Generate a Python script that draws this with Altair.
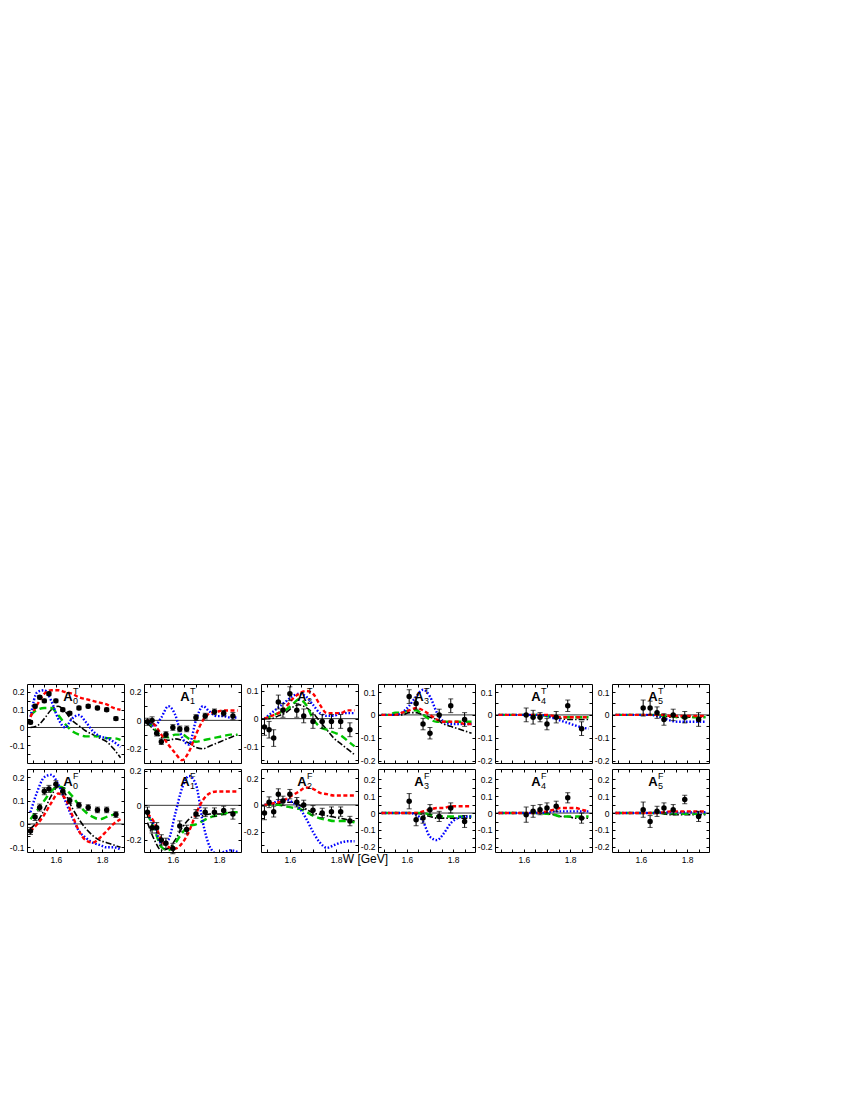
import altair as alt
import pandas as pd

# ---------------- axes / grids ----------------
X_DOM = [1.475, 1.895]
X_TICKS = [1.5, 1.55, 1.6, 1.65, 1.7, 1.75, 1.8, 1.85]
X_LABELS = [1.6, 1.8]

W_CURVE = [1.49, 1.52, 1.55, 1.58, 1.61, 1.64, 1.67, 1.70, 1.73, 1.76, 1.79, 1.82, 1.85, 1.88]
W_DATA = [1.49, 1.51, 1.53, 1.55, 1.57, 1.60, 1.63, 1.66, 1.70, 1.74, 1.78, 1.82, 1.86]
W_DATA_HI = [1.61, 1.64, 1.67, 1.70, 1.74, 1.79, 1.85]

# ---------------- A0^T ----------------
A0T_dom = [-0.2, 0.245]
A0T_ticks = [-0.15, -0.1, -0.05, 0, 0.05, 0.1, 0.15, 0.2]
A0T_pts = [0.03, 0.12, 0.17, 0.15, 0.19, 0.15, 0.10, 0.08, 0.11, 0.12, 0.11, 0.10, 0.05]
A0T_err = [0.01, 0.01, 0.01, 0.01, 0.01, 0.01, 0.01, 0.01, 0.01, 0.01, 0.01, 0.01, 0.01]
A0T_red = [0.06, 0.13, 0.19, 0.21, 0.21, 0.20, 0.19, 0.17, 0.16, 0.15, 0.14, 0.13, 0.11, 0.10]
A0T_blue = [0.06, 0.20, 0.21, 0.15, 0.05, 0.00, 0.05, 0.07, 0.03, -0.02, -0.05, -0.06, -0.08, -0.11]
A0T_green = [0.07, 0.10, 0.11, 0.11, 0.07, 0.02, -0.02, -0.04, -0.05, -0.05, -0.05, -0.06, -0.06, -0.07]
A0T_black = [0.00, 0.01, 0.05, 0.10, 0.12, 0.09, 0.04, 0.01, -0.02, -0.04, -0.06, -0.08, -0.12, -0.17]

# ---------------- A1^T ----------------
A1T_dom = [-0.3, 0.256]
A1T_ticks = [-0.3, -0.2, -0.1, 0, 0.1, 0.2]
A1T_pts = [-0.01, 0.00, -0.09, -0.15, -0.10, -0.05, -0.06, -0.06, 0.02, 0.03, 0.06, 0.05, 0.03]
A1T_err = [0.025, 0.025, 0.02, 0.02, 0.02, 0.02, 0.02, 0.02, 0.02, 0.02, 0.02, 0.02, 0.025]
A1T_red = [0.00, -0.03, -0.10, -0.17, -0.23, -0.28, -0.22, -0.10, 0.00, 0.05, 0.06, 0.07, 0.07, 0.07]
A1T_blue = [0.00, -0.04, 0.02, 0.10, 0.04, -0.12, -0.17, 0.00, 0.10, 0.06, 0.03, 0.03, 0.02, 0.02]
A1T_green = [0.00, -0.06, -0.11, -0.12, -0.10, -0.10, -0.13, -0.15, -0.14, -0.13, -0.12, -0.11, -0.10, -0.10]
A1T_black = [-0.02, -0.07, -0.12, -0.14, -0.13, -0.14, -0.16, -0.19, -0.20, -0.18, -0.16, -0.14, -0.12, -0.10]

# ---------------- A2^T ----------------
A2T_dom = [-0.16, 0.125]
A2T_ticks = [-0.15, -0.1, -0.05, 0, 0.05, 0.1]
A2T_pts = [-0.03, -0.04, -0.07, 0.06, 0.03, 0.09, 0.03, 0.01, -0.01, -0.01, -0.01, -0.01, -0.04]
A2T_err = [0.03, 0.03, 0.03, 0.025, 0.025, 0.025, 0.025, 0.025, 0.025, 0.025, 0.025, 0.025, 0.025]
A2T_red = [0.00, 0.01, 0.02, 0.04, 0.07, 0.09, 0.10, 0.09, 0.05, 0.02, 0.02, 0.02, 0.03, 0.03]
A2T_blue = [0.00, 0.02, 0.04, 0.06, 0.08, 0.09, 0.08, 0.05, 0.02, 0.01, 0.01, 0.02, 0.02, 0.02]
A2T_green = [0.00, 0.01, 0.02, 0.03, 0.05, 0.07, 0.05, 0.00, -0.03, -0.04, -0.05, -0.06, -0.08, -0.10]
A2T_black = [0.00, 0.00, 0.01, 0.02, 0.04, 0.05, 0.04, 0.02, -0.01, -0.04, -0.07, -0.09, -0.11, -0.13]

# ---------------- A3^T ----------------
A3T_dom = [-0.21, 0.135]
A3T_ticks = [-0.2, -0.15, -0.1, -0.05, 0, 0.05, 0.1]
A3T_pts = [0.08, 0.05, -0.04, -0.08, 0.00, 0.04, -0.02]
A3T_err = [0.03, 0.025, 0.025, 0.025, 0.025, 0.03, 0.03]
A3T_red = [0.00, 0.00, 0.00, 0.01, 0.02, 0.03, 0.02, 0.00, -0.02, -0.03, -0.03, -0.03, -0.04, -0.04]
A3T_blue = [0.00, 0.00, 0.00, 0.01, 0.04, 0.08, 0.11, 0.08, 0.01, -0.03, -0.04, -0.04, -0.04, -0.04]
A3T_green = [0.00, 0.00, 0.01, 0.01, 0.02, 0.02, 0.00, -0.02, -0.03, -0.03, -0.03, -0.03, -0.03, -0.03]
A3T_black = [0.00, 0.00, 0.00, 0.00, 0.01, 0.01, 0.00, -0.01, -0.02, -0.04, -0.05, -0.06, -0.07, -0.08]

# ---------------- A4^T ----------------
A4T_pts = [0.00, -0.01, -0.01, -0.04, -0.01, 0.04, -0.06]
A4T_err = [0.03, 0.03, 0.02, 0.025, 0.025, 0.025, 0.03]
A4T_red = [0, 0, 0, 0, 0, 0, 0, 0, -0.005, -0.01, -0.01, -0.01, -0.01, -0.01]
A4T_blue = [0, 0, 0, 0, 0, 0, 0, -0.005, -0.015, -0.025, -0.035, -0.045, -0.055, -0.06]
A4T_green = [0, 0, 0, 0, 0, 0, 0, -0.005, -0.01, -0.01, -0.01, -0.01, -0.01, -0.01]
A4T_black = [0, 0, 0, 0, 0, 0, 0, -0.005, -0.01, -0.015, -0.02, -0.02, -0.02, -0.02]

# ---------------- A5^T ----------------
A5T_pts = [0.03, 0.03, 0.01, -0.02, 0.00, -0.01, -0.02]
A5T_err = [0.035, 0.03, 0.025, 0.025, 0.025, 0.025, 0.03]
A5T_red = [0, 0, 0, 0, 0, 0, 0, 0, -0.005, -0.005, -0.005, -0.005, -0.005, -0.005]
A5T_blue = [0, 0, 0, 0, 0, 0, -0.005, -0.015, -0.025, -0.03, -0.03, -0.03, -0.03, -0.03]
A5T_green = [0, 0, 0, 0, 0, 0, 0, -0.005, -0.005, -0.01, -0.01, -0.01, -0.01, -0.01]
A5T_black = [0, 0, 0, 0, 0, 0, 0, -0.005, -0.01, -0.01, -0.01, -0.01, -0.01, -0.01]

# ---------------- A0^F ----------------
A0F_dom = [-0.12, 0.235]
A0F_ticks = [-0.1, -0.05, 0, 0.05, 0.1, 0.15, 0.2]
A0F_pts = [-0.03, 0.03, 0.07, 0.14, 0.15, 0.17, 0.14, 0.10, 0.08, 0.07, 0.06, 0.06, 0.04]
A0F_err = [0.015, 0.015, 0.015, 0.015, 0.015, 0.015, 0.015, 0.012, 0.012, 0.012, 0.012, 0.012, 0.012]
A0F_red = [-0.03, 0.00, 0.04, 0.09, 0.13, 0.11, 0.04, -0.03, -0.07, -0.08, -0.06, -0.03, 0.00, 0.02]
A0F_blue = [0.05, 0.14, 0.20, 0.21, 0.17, 0.10, 0.03, -0.03, -0.06, -0.08, -0.09, -0.10, -0.10, -0.11]
A0F_green = [0.02, 0.06, 0.10, 0.14, 0.16, 0.15, 0.12, 0.08, 0.05, 0.03, 0.02, 0.03, 0.04, 0.05]
A0F_black = [-0.02, 0.01, 0.06, 0.12, 0.16, 0.13, 0.07, 0.02, -0.02, -0.05, -0.07, -0.08, -0.09, -0.10]

# ---------------- A1^F ----------------
A1F_dom = [-0.27, 0.21]
A1F_ticks = [-0.2, -0.1, 0, 0.1, 0.2]
A1F_pts = [-0.04, -0.13, -0.13, -0.20, -0.22, -0.25, -0.12, -0.14, -0.05, -0.04, -0.04, -0.03, -0.05]
A1F_err = [0.03, 0.03, 0.03, 0.03, 0.03, 0.03, 0.03, 0.025, 0.025, 0.025, 0.025, 0.025, 0.03]
A1F_red = [-0.05, -0.10, -0.20, -0.24, -0.25, -0.22, -0.15, -0.05, 0.03, 0.07, 0.08, 0.08, 0.08, 0.08]
A1F_blue = [-0.05, -0.12, -0.22, -0.20, -0.05, 0.10, 0.17, 0.12, -0.10, -0.24, -0.28, -0.27, -0.26, -0.27]
A1F_green = [-0.05, -0.14, -0.24, -0.26, -0.22, -0.16, -0.12, -0.11, -0.09, -0.07, -0.06, -0.05, -0.04, -0.04]
A1F_black = [-0.10, -0.20, -0.26, -0.25, -0.20, -0.13, -0.08, -0.06, -0.06, -0.05, -0.05, -0.05, -0.04, -0.04]

# ---------------- A2^F ----------------
A2F_dom = [-0.35, 0.267]
A2F_ticks = [-0.3, -0.2, -0.1, 0, 0.1, 0.2]
A2F_pts = [-0.06, 0.02, -0.05, 0.08, 0.03, 0.08, 0.02, 0.00, -0.04, -0.06, -0.05, -0.05, -0.12]
A2F_err = [0.05, 0.04, 0.04, 0.04, 0.035, 0.035, 0.035, 0.035, 0.035, 0.035, 0.035, 0.035, 0.035]
A2F_red = [0.00, 0.01, 0.02, 0.04, 0.07, 0.10, 0.13, 0.12, 0.09, 0.08, 0.07, 0.07, 0.07, 0.07]
A2F_blue = [0.00, 0.01, 0.03, 0.04, 0.02, -0.02, -0.10, -0.20, -0.28, -0.32, -0.30, -0.28, -0.27, -0.27]
A2F_green = [0.00, 0.00, 0.00, -0.01, -0.02, -0.03, -0.05, -0.08, -0.10, -0.11, -0.12, -0.12, -0.12, -0.13]
A2F_black = [0.00, 0.00, 0.01, 0.02, 0.02, 0.00, -0.03, -0.06, -0.07, -0.08, -0.09, -0.10, -0.11, -0.12]

# ---------------- A3^F ----------------
A3F_dom = [-0.23, 0.26]
A3F_ticks = [-0.2, -0.15, -0.1, -0.05, 0, 0.05, 0.1, 0.15, 0.2]
A3F_pts = [0.07, -0.04, -0.03, 0.02, -0.02, 0.03, -0.05]
A3F_err = [0.045, 0.035, 0.03, 0.03, 0.03, 0.03, 0.035]
A3F_red = [0, 0, 0, 0, 0, 0, 0.01, 0.02, 0.03, 0.03, 0.04, 0.04, 0.04, 0.04]
A3F_blue = [0, 0, 0, 0, 0, -0.01, -0.05, -0.14, -0.16, -0.12, -0.06, -0.03, -0.02, -0.02]
A3F_green = [0, 0, 0, 0, 0, 0, 0, -0.01, -0.02, -0.02, -0.02, -0.02, -0.02, -0.02]
A3F_black = [0, 0, 0, 0, 0, 0, -0.01, -0.02, -0.03, -0.03, -0.03, -0.03, -0.03, -0.03]

# ---------------- A4^F ----------------
A4F_pts = [-0.01, 0.01, 0.02, 0.03, 0.04, 0.09, -0.03]
A4F_err = [0.045, 0.035, 0.03, 0.03, 0.03, 0.03, 0.03]
A4F_red = [0, 0, 0, 0, 0, 0, 0.005, 0.01, 0.02, 0.03, 0.03, 0.03, 0.02, 0.01]
A4F_blue = [0, 0, 0, 0, 0, 0, 0, 0.005, 0.01, 0.01, 0.01, 0.01, 0.01, 0.01]
A4F_green = [0, 0, 0, 0, 0, 0, 0, -0.005, -0.01, -0.02, -0.02, -0.02, -0.02, -0.02]
A4F_black = [0, 0, 0, 0, 0, 0, 0, -0.005, -0.01, -0.02, -0.02, -0.03, -0.03, -0.03]

# ---------------- A5^F ----------------
A5F_pts = [0.02, -0.05, 0.01, 0.03, 0.02, 0.08, -0.02]
A5F_err = [0.045, 0.035, 0.03, 0.03, 0.03, 0.025, 0.03]
A5F_red = [0, 0, 0, 0, 0, 0, 0, 0.005, 0.01, 0.01, 0.01, 0.01, 0.01, 0.01]
A5F_blue = [0, 0, 0, 0, 0, 0, 0, 0.005, 0.005, 0.005, 0.005, 0.005, 0.005, 0.005]
A5F_green = [0, 0, 0, 0, 0, 0, 0, 0, -0.005, -0.005, -0.005, -0.005, -0.005, -0.005]
A5F_black = [0, 0, 0, 0, 0, 0, 0, -0.005, -0.01, -0.01, -0.01, -0.01, -0.01, -0.01]

TOP = [
    ("0", "T", A0T_dom, A0T_ticks, 0.1, W_DATA, A0T_pts, A0T_err, A0T_red, A0T_blue, A0T_green, A0T_black),
    ("1", "T", A1T_dom, A1T_ticks, 0.2, W_DATA, A1T_pts, A1T_err, A1T_red, A1T_blue, A1T_green, A1T_black),
    ("2", "T", A2T_dom, A2T_ticks, 0.1, W_DATA, A2T_pts, A2T_err, A2T_red, A2T_blue, A2T_green, A2T_black),
    ("3", "T", A3T_dom, A3T_ticks, 0.1, W_DATA_HI, A3T_pts, A3T_err, A3T_red, A3T_blue, A3T_green, A3T_black),
    ("4", "T", A3T_dom, A3T_ticks, 0.1, W_DATA_HI, A4T_pts, A4T_err, A4T_red, A4T_blue, A4T_green, A4T_black),
    ("5", "T", A3T_dom, A3T_ticks, 0.1, W_DATA_HI, A5T_pts, A5T_err, A5T_red, A5T_blue, A5T_green, A5T_black),
]
BOTTOM = [
    ("0", "F", A0F_dom, A0F_ticks, 0.1, W_DATA, A0F_pts, A0F_err, A0F_red, A0F_blue, A0F_green, A0F_black),
    ("1", "F", A1F_dom, A1F_ticks, 0.2, W_DATA, A1F_pts, A1F_err, A1F_red, A1F_blue, A1F_green, A1F_black),
    ("2", "F", A2F_dom, A2F_ticks, 0.2, W_DATA, A2F_pts, A2F_err, A2F_red, A2F_blue, A2F_green, A2F_black),
    ("3", "F", A3F_dom, A3F_ticks, 0.1, W_DATA_HI, A3F_pts, A3F_err, A3F_red, A3F_blue, A3F_green, A3F_black),
    ("4", "F", A3F_dom, A3F_ticks, 0.1, W_DATA_HI, A4F_pts, A4F_err, A4F_red, A4F_blue, A4F_green, A4F_black),
    ("5", "F", A3F_dom, A3F_ticks, 0.1, W_DATA_HI, A5F_pts, A5F_err, A5F_red, A5F_blue, A5F_green, A5F_black),
]

STYLES = [
    ("black", "#000000", [6, 2, 1.5, 2], 1.6),
    ("green", "#00c400", [7, 4], 2.4),
    ("blue", "#0000ff", [1.6, 1.8], 2.4),
    ("red", "#ff0000", [4, 2.5], 2.4),
]

FONT = "Liberation Sans"
PW = 97
X_LABEL_EXPR = " || ".join(f"abs(datum.value - {v}) < 1e-6" for v in X_LABELS) + " ? format(datum.value, '.1f') : ''"


def make_panel(spec, row):
    sub, sup, dom, yt, major, wd, pts, err, red, blue, green, black = spec
    h = 79 if row == 0 else 83
    xs = alt.Scale(domain=X_DOM, nice=False, zero=False)
    ys = alt.Scale(domain=dom, nice=False, zero=False)
    ylab = (f"abs(datum.value/{major} - round(datum.value/{major})) < 1e-6 ? "
            f"replace(format(datum.value, '.1~f'), '\u2212', '-') : ''")
    ax_b = alt.Axis(orient="bottom", values=X_TICKS, labels=(row == 1), labelExpr=X_LABEL_EXPR,
                    tickSize=3, offset=-3, domain=False, grid=False, title=None, labelPadding=3,
                    minExtent=0, maxExtent=0 if row == 0 else 14)
    ax_l = alt.Axis(orient="left", values=yt, labelExpr=ylab, tickSize=3, offset=-3, domain=False,
                    grid=False, title=None, labelPadding=3, minExtent=0, maxExtent=15)
    ax_t = alt.Axis(orient="top", values=X_TICKS, labels=False, tickSize=3, offset=-3, domain=False,
                    grid=False, title=None, minExtent=0, maxExtent=0)
    ax_r = alt.Axis(orient="right", values=yt, labels=False, tickSize=3, offset=-3, domain=False,
                    grid=False, title=None, minExtent=0, maxExtent=0)

    pdf = pd.DataFrame({"W": wd, "v": pts,
                        "lo": [v - e for v, e in zip(pts, err)],
                        "hi": [v + e for v, e in zip(pts, err)]})
    cdf = pd.DataFrame({"W": W_CURVE, "red": red, "blue": blue, "green": green, "black": black})
    caps = pd.DataFrame({"W": list(wd) + list(wd), "c": list(pdf["lo"]) + list(pdf["hi"])})

    zero = alt.Chart(pd.DataFrame({"z": [0]})).mark_rule(color="black", strokeWidth=0.8).encode(
        y=alt.Y("z:Q", scale=ys, axis=None))
    frame_bl = alt.Chart(pdf).mark_point(opacity=0).encode(
        x=alt.X("W:Q", scale=xs, axis=ax_b), y=alt.Y("v:Q", scale=ys, axis=ax_l))
    frame_tr = alt.Chart(pdf).mark_point(opacity=0).encode(
        x=alt.X("W:Q", scale=xs, axis=ax_t), y=alt.Y("v:Q", scale=ys, axis=ax_r))
    lines = []
    for name, color, dash, sw in STYLES:
        lines.append(alt.Chart(cdf).mark_line(color=color, strokeDash=dash, strokeWidth=sw, clip=True,
                                              interpolate="monotone").encode(
            x=alt.X("W:Q", scale=xs, axis=None), y=alt.Y(f"{name}:Q", scale=ys, axis=None)))
    ebar = alt.Chart(pdf).mark_rule(color="black", strokeWidth=1).encode(
        x=alt.X("W:Q", scale=xs, axis=None), y=alt.Y("lo:Q", scale=ys, axis=None), y2="hi:Q")
    ecap = alt.Chart(caps).mark_tick(orient="horizontal", size=5, thickness=1, color="black").encode(
        x=alt.X("W:Q", scale=xs, axis=None), y=alt.Y("c:Q", scale=ys, axis=None))
    points = alt.Chart(pdf).mark_circle(size=30, color="black", opacity=1).encode(
        x=alt.X("W:Q", scale=xs, axis=None), y=alt.Y("v:Q", scale=ys, axis=None))

    tA = alt.Chart(pd.DataFrame({"t": ["A"]})).mark_text(
        font=FONT, fontSize=13, fontWeight="bold", align="center", baseline="alphabetic", color="black"
    ).encode(text="t:N", x=alt.value(41), y=alt.value(17))
    tSup = alt.Chart(pd.DataFrame({"t": [sup]})).mark_text(
        font=FONT, fontSize=9, align="left", baseline="alphabetic", color="black"
    ).encode(text="t:N", x=alt.value(46), y=alt.value(10))
    tSub = alt.Chart(pd.DataFrame({"t": [sub]})).mark_text(
        font=FONT, fontSize=9, align="left", baseline="alphabetic", color="black"
    ).encode(text="t:N", x=alt.value(46), y=alt.value(20))

    layers = [zero, frame_bl, frame_tr] + lines + [ebar, ecap, points, tA, tSup, tSub]
    return alt.layer(*layers).resolve_axis(x="independent", y="independent").properties(width=PW, height=h)


top_row = alt.hconcat(*[make_panel(s, 0) for s in TOP], spacing=0)
bottom_row = alt.hconcat(*[make_panel(s, 1) for s in BOTTOM], spacing=0)

chart = alt.vconcat(top_row, bottom_row, spacing=0).properties(
    padding={"left": 0, "top": 675, "right": 5, "bottom": 5},
    title=alt.TitleParams("W [GeV]", orient="bottom", anchor="middle", offset=-10, dx=6,
                          font=FONT, fontSize=12, fontWeight="normal", color="black"),
).configure_view(stroke="black", strokeWidth=1).configure_axis(
    labelFont=FONT, labelFontSize=8.5, labelColor="black", tickColor="black", tickWidth=1
)

chart.save("out.html", embed_options={"renderer": "svg", "actions": False})
